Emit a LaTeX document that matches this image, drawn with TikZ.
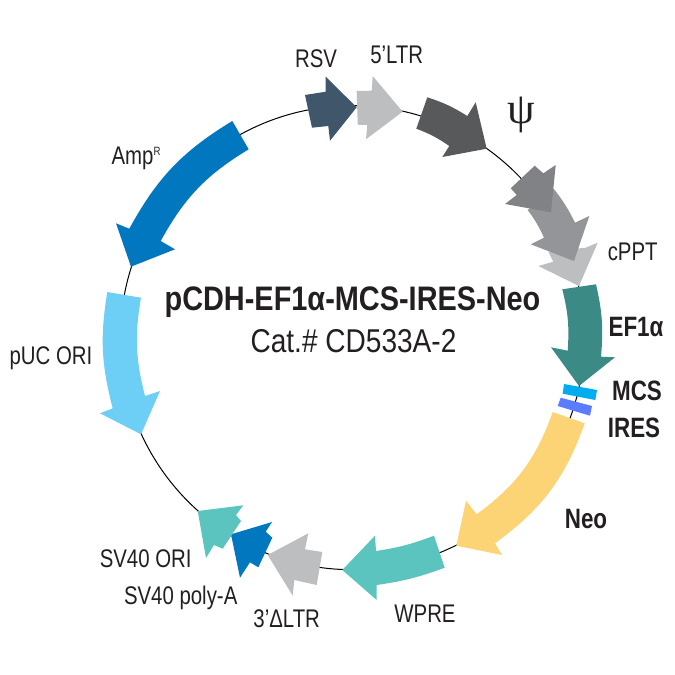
\documentclass[tikz,border=0pt]{standalone}
\usepackage{fontspec}
\setmainfont[FakeStretch=0.8]{Liberation Sans}
\newfontfamily\titlefont[FakeStretch=0.85]{Liberation Sans}
\newfontfamily\psifont{Liberation Serif}
\usepackage{xcolor}
\definecolor{txtdark}{HTML}{231F20}
\definecolor{rsvblue}{HTML}{3F566B}
\definecolor{ltrgray}{HTML}{BCBEC0}
\definecolor{psigray}{HTML}{58595B}
\definecolor{midgray}{HTML}{939598}
\definecolor{darkgray}{HTML}{808285}
\definecolor{efteal}{HTML}{3B8A86}
\definecolor{mcsblue}{HTML}{00AEEF}
\definecolor{iresblue}{HTML}{5B7CFF}
\definecolor{neoyellow}{HTML}{FDD475}
\definecolor{wpreteal}{HTML}{5BC4BE}
\definecolor{ampblue}{HTML}{0077BF}
\definecolor{puclight}{HTML}{6DCFF6}

\begin{document}
\begin{tikzpicture}[x=1pt, y=-1pt,
    lbl/.style={text=txtdark, font=\fontsize{25.5}{28}\selectfont, inner sep=0pt},
    lblbold/.style={text=txtdark, font=\fontsize{28}{30}\selectfont\bfseries, inner sep=0pt}]
\useasboundingbox (0,0) rectangle (675,675);

% plasmid backbone
\draw[black, line width=1pt] (352.4,337.7) circle (232pt);

% RSV and 5'LTR
\fill[rsvblue] (305,95) -- (325.7,91.7) -- (325.7,76.7) -- (356.7,107.3) -- (330,140.7) -- (328.3,126) -- (312,127.7) -- cycle;
\fill[ltrgray] (356.7,91) -- (371.7,90.7) -- (372.7,76) -- (402.7,111.7) -- (366,139.3) -- (367.3,125) -- (357.7,124.7) -- cycle;

% psi
\fill[psigray] (427.3,97.3) to[bend left=7] (467.3,116) -- (475.7,102.3) -- (486.7,148.7) -- (442.3,157) -- (449.3,146) to[bend right=7] (416.3,128.7) -- cycle;

% cPPT group, lightest first
\fill[ltrgray] (585.7,247.7) -- (597.7,242.7) -- (579,286) -- (538.3,266) -- (553.3,261.7) -- (548.3,251.7) -- cycle;
\fill[midgray] (553.3,188.3) to[bend left=6] (575,222.7) -- (589.3,216) -- (574,261) -- (530.7,244.3) -- (544,237.7) to[bend right=6] (527.7,210) -- cycle;
\fill[darkgray] (534.7,165.7) -- (543.3,173.3) -- (555.7,165) -- (551,212.3) -- (505,204) -- (516.7,195) -- (510.7,188.3) -- cycle;

% EF1a
\fill[efteal] (562.3,289.3) -- (596,284.3) to[bend left=9] (601,356.7) -- (615,357.3) -- (579,386) -- (551,347.3) -- (567.7,350.7) to[bend right=9] cycle;

% MCS and IRES bars
\fill[mcsblue] (564,384) -- (597,390) -- (595.3,400) -- (562.7,393.7) -- cycle;
\fill[iresblue] (560.7,397.7) -- (592,406) -- (590,415.7) -- (557.7,406) -- cycle;

% Neo
\fill[neoyellow] (552.7,412) -- (584.7,423.3) to[bend left=17] (495,543.3) -- (502,555) -- (456.3,545.7) -- (466,500.7) -- (476.7,514.3) to[bend right=17] cycle;

% WPRE
\fill[wpreteal] (434,535.7) -- (444.7,567.7) to[bend left=6] (376.7,585) -- (376.7,600) -- (342.3,570) -- (375,535.7) -- (376,551) to[bend right=6] cycle;

% 3'LTR, polyA, SV40 ori
\fill[ltrgray] (322.3,552) -- (316.7,585) -- (294.3,580) -- (292.7,595.7) -- (267.7,555) -- (308.3,533.3) -- (305,549.3) -- cycle;
\fill[ampblue] (272,522) -- (265.7,531.7) -- (272.3,537.7) -- (258.3,567.3) -- (250,562.3) -- (240,577.7) -- (231,534.3) -- cycle;
\fill[wpreteal] (243.3,505.3) -- (236,515) -- (241,521) -- (222.7,548.7) -- (214,545) -- (206,558) -- (197.7,511) -- cycle;

% pUC ori
\fill[puclight] (107.3,292) -- (141,297.7) to[bend right=12] (145,396) -- (160,391) -- (141,434.3) -- (100,413.3) -- (112.7,408.3) to[bend left=12] cycle;

% AmpR
\fill[ampblue] (232.3,121) -- (248.7,149.3) to[bend right=15] (160.7,241) -- (175,249.3) -- (131,266.7) -- (116,223.3) -- (129.3,228.7) to[bend left=15] cycle;

% feature labels
\node[lbl] (rsv) at (316,59) {RSV};
\node[lbl] (ltrfive) at (396.7,55) {5’LTR};
\node[text=txtdark, font=\psifont\fontsize{44}{44}\selectfont, inner sep=0pt] (psi) at (521,115) {ψ};
\node[lbl] (cppt) at (632.7,252) {cPPT};
\node[lblbold] (efa) at (636,327) {EF1α};
\node[lblbold] (mcs) at (637,391) {MCS};
\node[lblbold] (ires) at (634,428) {IRES};
\node[lblbold] (neo) at (586,519) {Neo};
\node[lbl] (wpre) at (425,614) {WPRE};
\node[lbl] (ltrthree) at (286.7,619) {3’ΔLTR};
\node[lbl] (polya) at (180.7,598) {SV40 poly-A};
\node[lbl] (svori) at (145.7,559) {SV40 ORI};
\node[lbl] (amp) at (136,158) {Amp\raisebox{9pt}{\fontsize{12}{12}\selectfont R}};
\node[lbl] (puc) at (51,358) {pUC ORI};

% name in the middle
\node[lblbold, font=\titlefont\fontsize{34}{36}\selectfont\bfseries] (title) at (352.5,302) {pCDH-EF1α-MCS-IRES-Neo};
\node[lbl, font=\titlefont\fontsize{33}{36}\selectfont] (cat) at (353.5,341) {Cat.\# CD533A-2};
\end{tikzpicture}
\end{document}
